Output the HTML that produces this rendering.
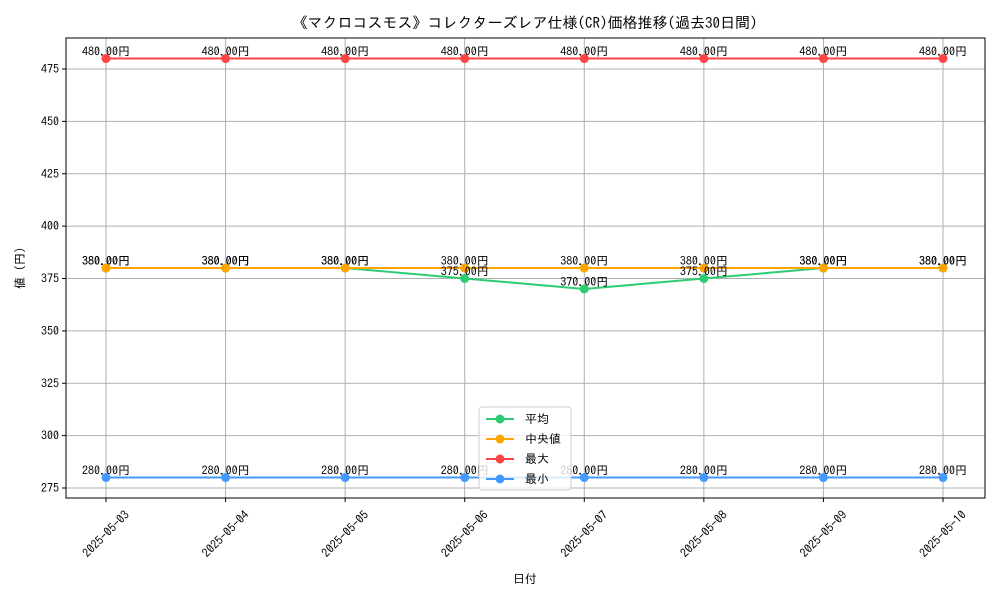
<!DOCTYPE html>
<html><head><meta charset="utf-8"><style>
body{margin:0;background:#fff}
svg text{font-family:"IPAGothic","Liberation Sans","Noto Sans CJK JP",sans-serif;fill:#000}
</style></head><body>
<svg id="chart" width="1000" height="600" xmlns="http://www.w3.org/2000/svg">
<rect width="1000" height="600" fill="#fff"/>
<text x="525" y="28" font-size="15" text-anchor="middle">《マクロコスモス》コレクターズレア仕様(CR)価格推移(過去30日間)</text>
<g id="grid"></g><g id="axes"></g><g id="series"></g><g id="labels"></g>
<text x="525" y="583" font-size="12" text-anchor="middle">日付</text>
<text x="0" y="0" font-size="12" text-anchor="middle" transform="translate(24,268) rotate(-90)">値 (円)</text>
<g id="legend"></g>
</svg>
<script>
const dates=["2025-05-03","2025-05-04","2025-05-05","2025-05-06","2025-05-07","2025-05-08","2025-05-09","2025-05-10"];
const avgVals=[380,380,380,375,370,375,380,380];
const medianVals=[380,380,380,380,380,380,380,380];
const maxVals=[480,480,480,480,480,480,480,480];
const minVals=[280,280,280,280,280,280,280,280];
const yTicks=[275,300,325,350,375,400,425,450,475];
const seriesNames=["平均","中央値","最大","最小"];
const NS="http://www.w3.org/2000/svg";
const L=66,R=985,T=38,B=498;
function xs(i){return 106+i*(943-106)/(dates.length-1);}
function ys(v){return 488-(v-275)*(488-69)/200;}
function mk(tag,attrs,parent){const e=document.createElementNS(NS,tag);for(const k in attrs)e.setAttribute(k,attrs[k]);parent.appendChild(e);return e;}
const grid=document.getElementById('grid'),axes=document.getElementById('axes'),ser=document.getElementById('series'),lab=document.getElementById('labels'),leg=document.getElementById('legend');
yTicks.forEach(v=>{
 const g=mk('line',{x1:L,x2:R,y1:ys(v),y2:ys(v),stroke:'#b0b0b0','stroke-width':1},grid);
 
 
 mk('line',{x1:L-4,x2:L,y1:ys(v),y2:ys(v),stroke:'#000'},axes);
 const t=mk('text',{x:L-7,y:ys(v)+4,'font-size':12,'text-anchor':'end'},axes);t.textContent=v;
 
 
});
dates.forEach((d,i)=>{
 const g=mk('line',{x1:xs(i),x2:xs(i),y1:T,y2:B,stroke:'#b0b0b0','stroke-width':1},grid);
 
 
 mk('line',{x1:xs(i),x2:xs(i),y1:B,y2:B+4,stroke:'#000'},axes);
 const t=mk('text',{x:0,y:4,'font-size':12,'text-anchor':'middle',transform:`translate(${xs(i)},${B+36}) rotate(-45)`},axes);t.textContent=d;
 
 
});
const frame=mk('rect',{x:L,y:T,width:R-L,height:B-T,fill:'none',stroke:'#000','stroke-width':1},axes);


const all=[avgVals,medianVals,maxVals,minVals];
const colors=["#2ecc71","#ffa500","#ff4444","#4499ff"];
const keys=["avg","median","max","min"];
all.forEach((vals,s)=>{
 const p=mk('polyline',{points:vals.map((v,i)=>xs(i)+','+ys(v)).join(' '),fill:'none',stroke:colors[s],'stroke-width':2},ser);
 
 
 vals.forEach((v,i)=>{
  const c=mk('circle',{cx:xs(i),cy:ys(v),r:4.5,fill:colors[s]},ser);
  
  
  const t=mk('text',{x:xs(i),y:ys(v)-3,'font-size':12,'text-anchor':'middle'},lab);t.textContent=v.toFixed(2)+'円';
  
  
 });
});
const box=mk('rect',{x:479,y:407,width:92,height:83,rx:3,fill:'#fff','fill-opacity':0.8,stroke:'#ccc'},leg);


seriesNames.forEach((n,s)=>{
 const y=419+s*20;
 const g=mk('g',{},leg);
 
 
 mk('line',{x1:486,x2:514,y1:y,y2:y,stroke:colors[s],'stroke-width':2},g);
 mk('circle',{cx:500,cy:y,r:4.5,fill:colors[s]},g);
 const t=mk('text',{x:525,y:y+4,'font-size':12},g);t.textContent=n;
});
</script>
</body></html>
